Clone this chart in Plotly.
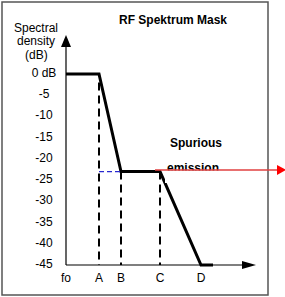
import plotly.graph_objects as go

# ---- data ----
freq_labels = ["fo", "A", "B", "C", "D"]
freq_pos = [0, 33, 55, 94, 135]          # frequency positions (arbitrary units)
mask_x = [0, 33, 55, 94, 135, 147]
mask_db = [0, 0, -23, -23, -45, -45]
tick_db = [0, -5, -10, -15, -20, -25, -30, -35, -40, -45]
tick_text = ["0 dB", "-5", "-10", "-15", "-20", "-25", "-30", "-35", "-40", "-45"]
ylabel_lines = ["Spectral", "density", "(dB)"]
spur_level = -22.6

FONT = "Liberation Sans, Arial, sans-serif"
FS = 12
W, H = 285, 297
K = 191 / 45.0  # px per dB
y_top = 74 / K
y_bot = -(H - 74) / K
x_lo, x_hi = -66, W - 66

fig = go.Figure()

# emission text (partially hidden below the red arrow)
fig.add_trace(go.Scatter(x=[127], y=[spur_level + 1.0 / K], mode="text", text=["<b>emission</b>"],
                         textfont=dict(family=FONT, size=FS, color="black"),
                         hoverinfo="skip", showlegend=False))

# spectrum mask
fig.add_trace(go.Scatter(x=mask_x, y=mask_db, mode="lines",
                         line=dict(color="black", width=3), showlegend=False,
                         hoverinfo="skip"))

# y tick labels
fig.add_trace(go.Scatter(x=[-22] * len(tick_db), y=tick_db, mode="text", text=tick_text,
                         textposition="middle center",
                         textfont=dict(family=FONT, size=FS, color="black"),
                         hoverinfo="skip", showlegend=False))
# x tick labels
fig.add_trace(go.Scatter(x=freq_pos, y=[-45 - 14 / K] * len(freq_pos), mode="text",
                         text=freq_labels, textposition="middle center",
                         textfont=dict(family=FONT, size=FS, color="black"),
                         hoverinfo="skip", showlegend=False))

shapes = []
# border
shapes.append(dict(type="rect", xref="paper", yref="paper", x0=2 / W, x1=268 / W,
                   y0=1 - 295 / H, y1=1 - 2 / H, line=dict(color="#555555", width=1.5)))
# axes
shapes.append(dict(type="line", xref="x", yref="y", x0=0, x1=0, y0=-45, y1=y_top - 42 / K,
                   line=dict(color="black", width=1.2)))
shapes.append(dict(type="line", xref="x", yref="y", x0=0, x1=178, y0=-45, y1=-45,
                   line=dict(color="black", width=1.2)))
# dashed verticals
A, B, C = freq_pos[1], freq_pos[2], freq_pos[3]
DASH = dict(color="black", width=2, dash="8px,5px")
shapes.append(dict(type="line", xref="x", yref="y", x0=A, x1=A, y0=-2, y1=-45, line=DASH))
shapes.append(dict(type="line", xref="x", yref="y", x0=B, x1=B, y0=mask_db[2], y1=-45, line=DASH))
shapes.append(dict(type="line", xref="x", yref="y", x0=C, x1=C, y0=mask_db[3], y1=-45, line=DASH))
# blue dashed
shapes.append(dict(type="line", xref="x", yref="y", x0=A, x1=B, y0=mask_db[2], y1=mask_db[2],
                   line=dict(color="#2828d0", width=1.3, dash="5px,3px")))
# arrowheads for axes
ytip = y_top - 35 / K
ybase = y_top - 47 / K
shapes.append(dict(type="path", xref="x", yref="y",
                   path=f"M -5,{ybase} L 0,{ytip} L 5,{ybase} Z",
                   fillcolor="black", line=dict(width=0)))
shapes.append(dict(type="path", xref="x", yref="y",
                   path=f"M 176,{-45 + 4 / K} L 190,-45 L 176,{-45 - 4 / K} Z",
                   fillcolor="black", line=dict(width=0)))
# hide lower half of 'emission'
shapes.append(dict(type="rect", xref="x", yref="y", x0=99, x1=160,
                   y0=spur_level - 13 / K, y1=spur_level - 0.5 / K,
                   fillcolor="white", line=dict(width=0), layer="above"))
# red arrow
shapes.append(dict(type="line", xref="x", yref="y", x0=89, x1=212, y0=spur_level, y1=spur_level,
                   line=dict(color="#e04040", width=1.5)))
shapes.append(dict(type="path", xref="x", yref="y",
                   path=f"M 211,{spur_level + 5 / K} L 220,{spur_level} L 211,{spur_level - 5 / K} Z",
                   fillcolor="#ff0000", line=dict(width=0)))

ann_common = dict(xref="paper", yref="paper", showarrow=False,
                  xanchor="center", yanchor="middle")
annotations = [
    dict(x=173 / W, y=1 - 20 / H, text="<b>RF Spektrum Mask</b>",
         font=dict(family=FONT, size=FS, color="black"), **ann_common),
    dict(x=196 / W, y=1 - 143 / H, text="<b>Spurious</b>",
         font=dict(family=FONT, size=FS, color="black"), **ann_common),
]
for i, line in enumerate(ylabel_lines):
    annotations.append(dict(x=36 / W, y=1 - (28 + 13.5 * i) / H, text=line,
                            font=dict(family=FONT, size=FS, color="black"), **ann_common))

fig.update_layout(
    width=W, height=H, margin=dict(l=0, r=0, t=0, b=0),
    paper_bgcolor="white", plot_bgcolor="white",
    xaxis=dict(range=[x_lo, x_hi], visible=False, fixedrange=True),
    yaxis=dict(range=[y_bot, y_top], visible=False, fixedrange=True),
    shapes=shapes, annotations=annotations, showlegend=False,
)

fig.write_html("out.html")
